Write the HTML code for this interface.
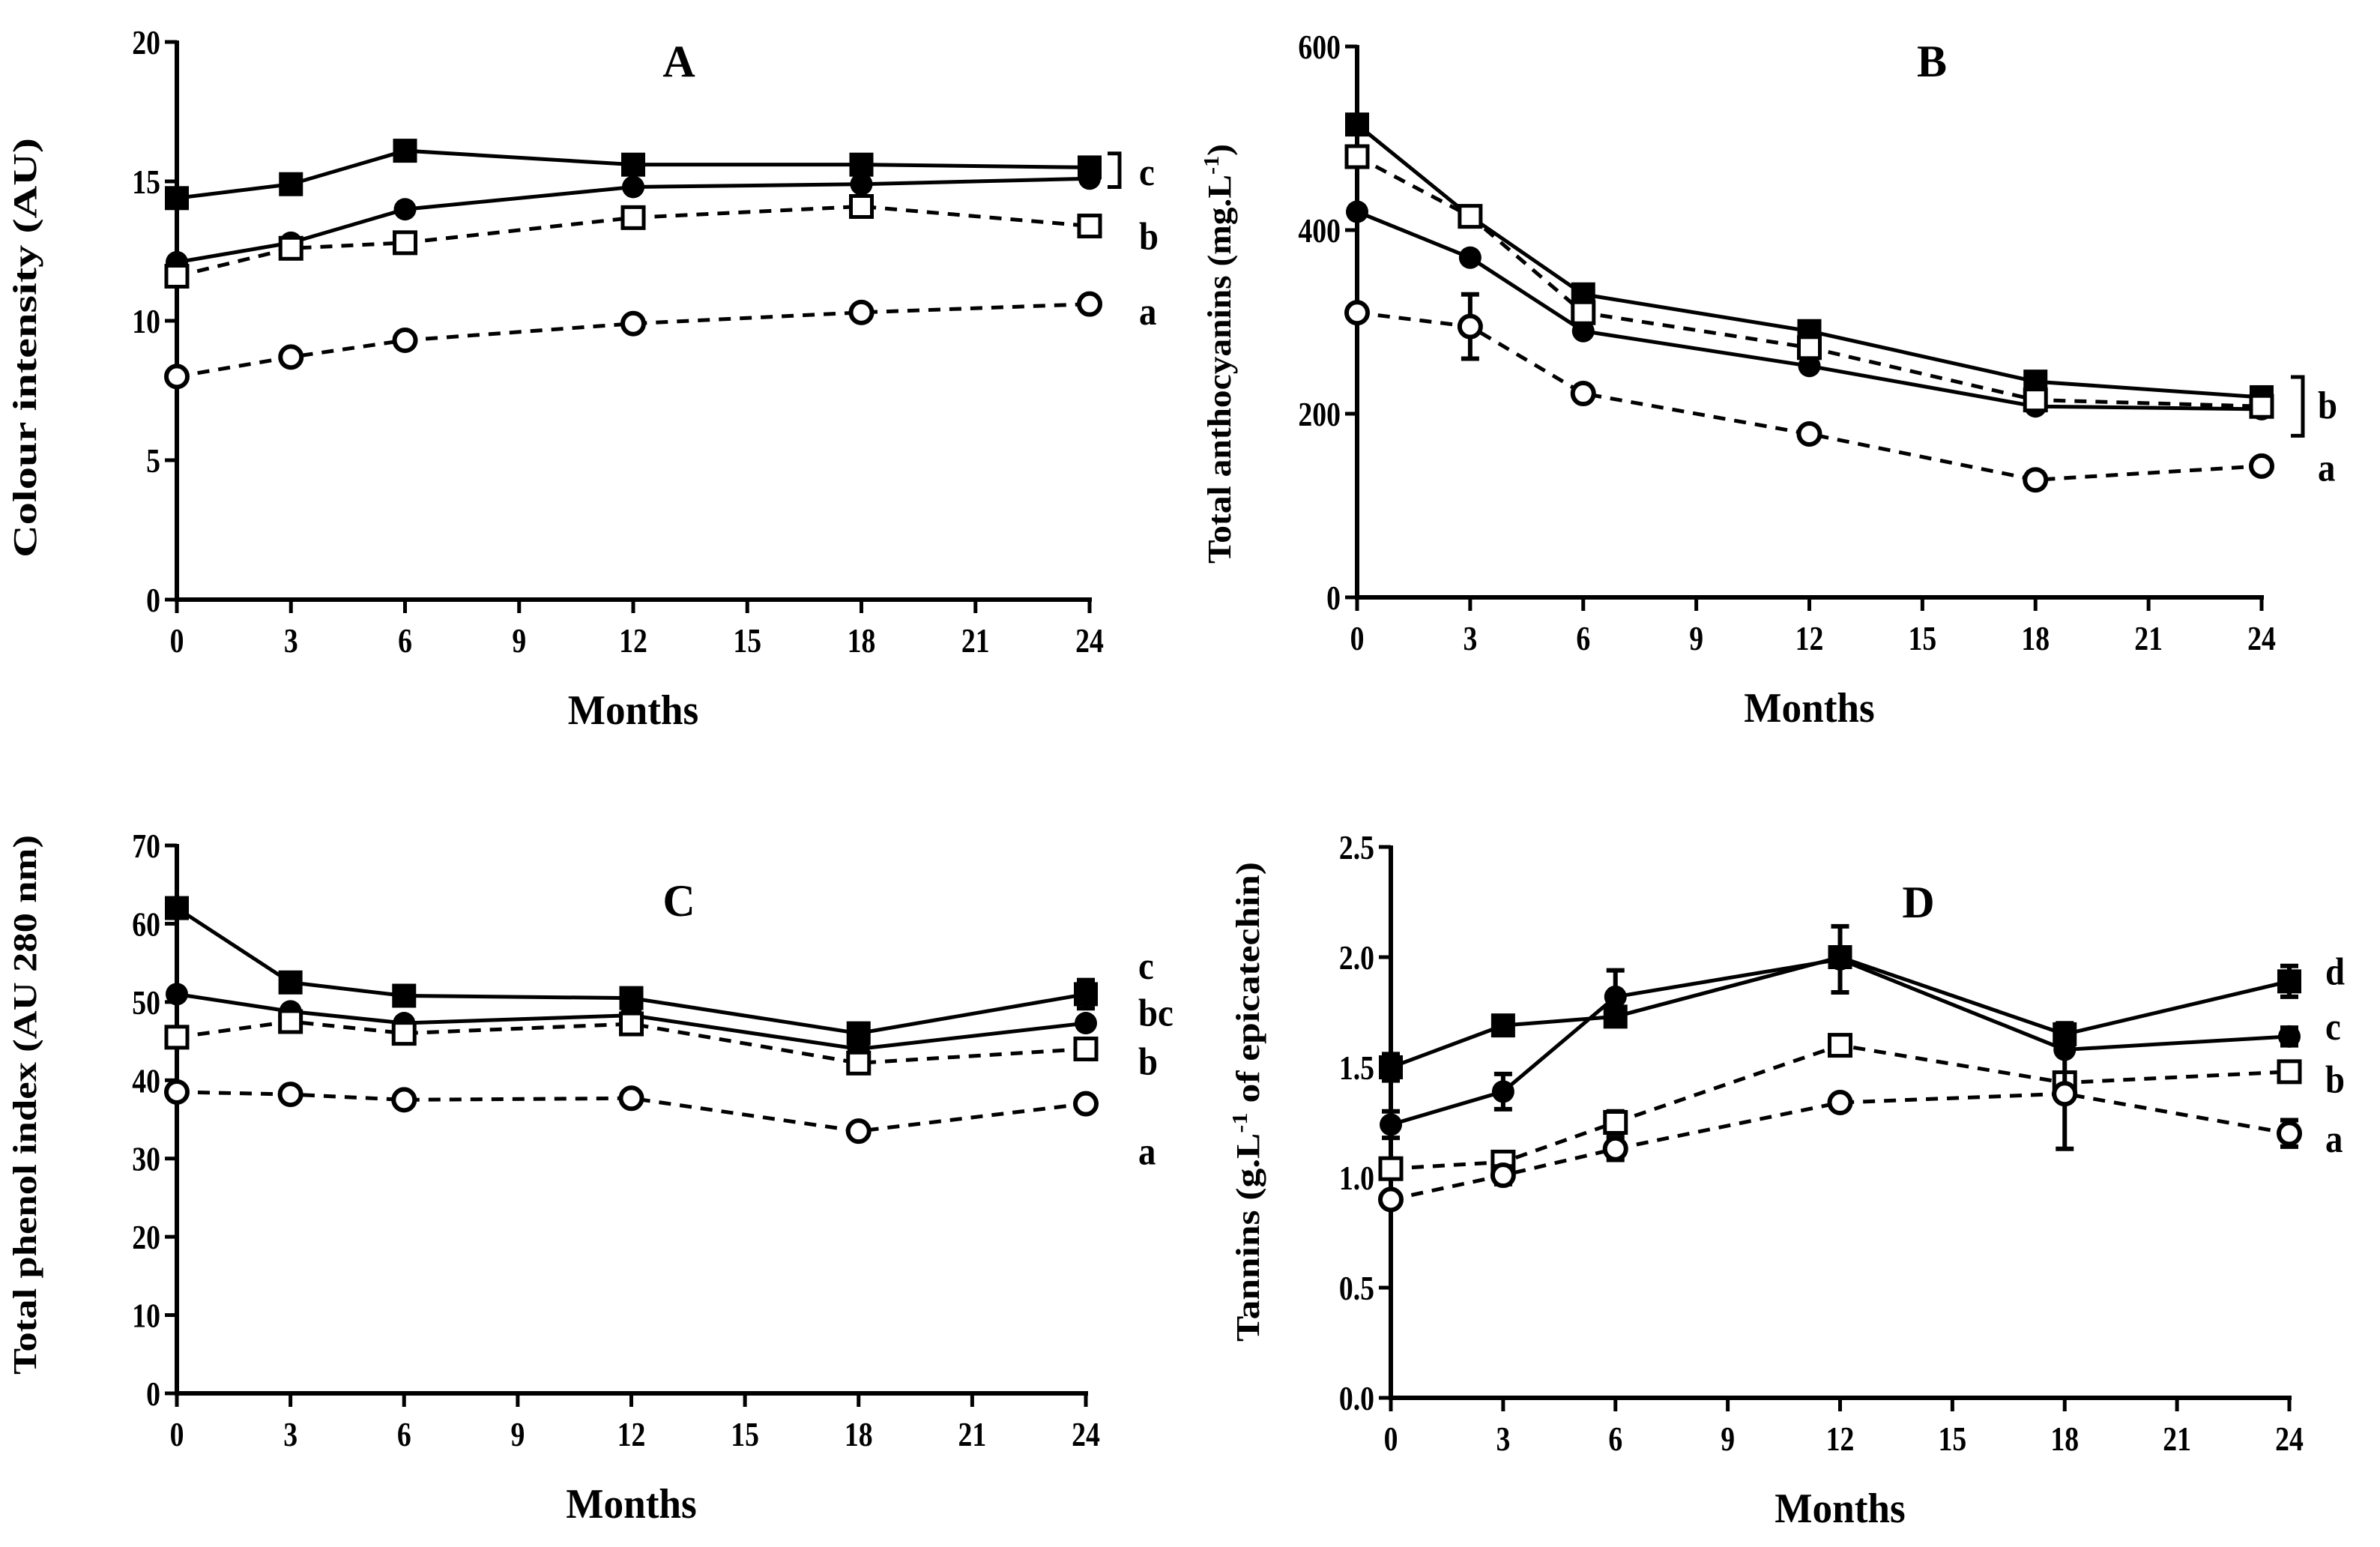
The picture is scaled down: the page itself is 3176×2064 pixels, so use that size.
<!DOCTYPE html>
<html><head><meta charset="utf-8"><style>
html,body{margin:0;padding:0;background:#fff;}
svg{display:block;}
text{font-family:"Liberation Serif",serif;font-weight:bold;fill:#000;}
</style></head><body>
<svg id="fig" width="3176" height="2064" viewBox="0 0 3176 2064"></svg>
<script>
const months=[0,3,6,12,18,24];
const xTicks=[0,3,6,9,12,15,18,21,24];
// Panel A
const aFilledSq=[14.4,14.9,16.1,15.6,15.6,15.5];
const aFilledCi=[12.1,12.8,14.0,14.8,14.9,15.1];
const aOpenSq=[11.6,12.6,12.8,13.7,14.1,13.4];
const aOpenCi=[8.0,8.7,9.3,9.9,10.3,10.6];
const aTicks=[0,5,10,15,20];
// Panel B
const bFilledSq=[515,415,330,290,235,218];
const bFilledCi=[420,370,290,252,208,205];
const bOpenSq=[480,415,310,272,215,208];
const bOpenCi=[310,295,222,178,128,143];
const bOpenCiErr=[0,35,0,0,8,0];
const bTicks=[0,200,400,600];
// Panel C
const cFilledSq=[62,52.5,50.8,50.5,46,51];
const cFilledSqErr=[0,0,0,0,0,1.8];
const cFilledCi=[51,48.8,47.3,48.3,44,47.3];
const cOpenSq=[45.5,47.5,46,47.2,42.2,44];
const cOpenCi=[38.5,38.2,37.5,37.7,33.5,37];
const cTicks=[0,10,20,30,40,50,60,70];
// Panel D
const dFilledSq=[1.50,1.69,1.73,2.00,1.65,1.89];
const dFilledSqErr=[0.06,0,0,0.04,0.05,0.07];
const dFilledCi=[1.24,1.39,1.82,1.99,1.58,1.64];
const dFilledCiErr=[0.06,0.08,0.12,0.15,0,0.04];
const dOpenSq=[1.04,1.07,1.25,1.60,1.43,1.48];
const dOpenSqErr=[0,0,0.05,0,0,0];
const dOpenCi=[0.90,1.01,1.13,1.34,1.38,1.20];
const dOpenCiErr=[0,0.04,0.05,0,0.25,0.06];
const dTicks=["0.0","0.5","1.0","1.5","2.0","2.5"];

const NS="http://www.w3.org/2000/svg";
const svg=document.getElementById('fig');
function mk(tag,attrs,parent,txt){const e=document.createElementNS(NS,tag);for(const k in attrs)e.setAttribute(k,attrs[k]);if(txt!==undefined)e.textContent=txt;(parent||svg).appendChild(e);return e;}
function st(x,y,size,anchor,txt,parent,sx){return mk('text',{x:0,y:0,'font-size':size,'text-anchor':anchor,transform:`translate(${x},${y}) scale(${sx||0.82},1)`},parent,txt);}

function panel(cfg){
  const g=mk('g',{});
  
  
  const X=v=>cfg.x0+(cfg.x1-cfg.x0)*v/24;
  const Y=v=>cfg.y0+(cfg.yTop-cfg.y0)*v/cfg.ymax;
  const ax=mk('path',{d:`M${cfg.x0} ${cfg.yTop-2}V${cfg.y0}H${cfg.x1+3}`,stroke:'#000','stroke-width':6,fill:'none'},g);
  
  
  cfg.yTicks.forEach(t=>{const v=parseFloat(t);
    mk('line',{x1:cfg.x0-16,x2:cfg.x0,y1:Y(v),y2:Y(v),stroke:'#000','stroke-width':5},g);
    const tl=st(cfg.x0-22,Y(v)+16,46,'end',t,g);
    
    
  });
  xTicks.forEach(t=>{
    mk('line',{x1:X(t),x2:X(t),y1:cfg.y0,y2:cfg.y0+18,stroke:'#000','stroke-width':5},g);
    const tl=st(X(t),cfg.y0+70,46,'middle',String(t),g);
    
    
  });
  const xt=st((cfg.x0+cfg.x1)/2,cfg.y0+166,56,'middle','Months',g,0.95);
  
  
  const yt=mk('text',{x:0,y:0,'font-size':44,'text-anchor':'middle',textLength:cfg.ytLen,lengthAdjust:'spacingAndGlyphs',transform:`translate(${cfg.ytX},${cfg.ytY}) rotate(-90)`},g);
  
  
  cfg.yTitle(yt);
  const pl=mk('text',{x:cfg.letterX,y:cfg.letterY,'font-size':60,'text-anchor':'middle'},g,cfg.id);
  
  
  cfg.series.forEach(s=>{
    const sg=mk('g',{},g);
    
    
    const d=s.vals.map((v,i)=>(i?'L':'M')+X(months[i])+' '+Y(v)).join('');
    mk('path',{d:d,stroke:'#000','stroke-width':5,fill:'none','stroke-dasharray':s.open?'16 12':'none'},sg);
    s.vals.forEach((v,i)=>{
      const e=s.err?s.err[i]:0;
      if(e>0){const cx=X(months[i]);
        mk('path',{d:`M${cx} ${Y(v+e)}V${Y(v-e)}M${cx-12} ${Y(v+e)}H${cx+12}M${cx-12} ${Y(v-e)}H${cx+12}`,stroke:'#000','stroke-width':6,fill:'none'},sg);}
      let m;
      const cx=X(months[i]),cy=Y(v);
      if(s.shape==='sq'){
        m=s.open?mk('rect',{x:cx-14,y:cy-14,width:28,height:28,fill:'#fff',stroke:'#000','stroke-width':5},sg)
                :mk('rect',{x:cx-16,y:cy-16,width:32,height:32,fill:'#000'},sg);
      }else{
        m=s.open?mk('circle',{cx:cx,cy:cy,r:14,fill:'#fff',stroke:'#000','stroke-width':6},sg)
                :mk('circle',{cx:cx,cy:cy,r:15,fill:'#000'},sg);
      }
      
      
    });
  });
  cfg.letters.forEach(l=>{
    const t=st(cfg.x1+(l.dx||48),Y(l.v)+16,52,'start',l.t,g,0.9);
    
    
  });
  if(cfg.bracket){const b=cfg.bracket,bx=cfg.x1+b.dx;
    const br=mk('path',{d:`M${bx-16} ${Y(b.hi)}H${bx}V${Y(b.lo)}H${bx-16}`,stroke:'#000','stroke-width':5,fill:'none'},g);
    
    
  }
}
function simpleTitle(s){return el=>{el.textContent=s;};}
function supTitle(a,b){return el=>{mk('tspan',{},el,a);mk('tspan',{dy:-16,'font-size':28},el,'-1');mk('tspan',{dy:16},el,b);};}

panel({id:'A',x0:236,x1:1454,y0:800,yTop:56,ymax:20,yTicks:aTicks.map(String),
  ytX:48,ytY:464,ytLen:560,yTitle:simpleTitle('Colour intensity (AU)'),letterX:906,letterY:102,
  series:[{name:'filled-square',shape:'sq',vals:aFilledSq},{name:'filled-circle',shape:'ci',vals:aFilledCi},
          {name:'open-square',shape:'sq',open:true,vals:aOpenSq},{name:'open-circle',shape:'ci',open:true,vals:aOpenCi}],
  letters:[{t:'c',v:15.3,dx:66},{t:'b',v:13.0,dx:66},{t:'a',v:10.3,dx:66}],bracket:{hi:16.0,lo:14.8,dx:40}});
panel({id:'B',x0:1811,x1:3018,y0:797,yTop:62,ymax:600,yTicks:bTicks.map(String),
  ytX:1642,ytY:472,ytLen:560,yTitle:supTitle('Total anthocyanins (mg.L',')'),letterX:2578,letterY:102,
  series:[{name:'filled-square',shape:'sq',vals:bFilledSq},{name:'filled-circle',shape:'ci',vals:bFilledCi},
          {name:'open-square',shape:'sq',open:true,vals:bOpenSq},{name:'open-circle',shape:'ci',open:true,vals:bOpenCi,err:bOpenCiErr}],
  letters:[{t:'b',v:208,dx:75},{t:'a',v:140,dx:75}],bracket:{hi:240,lo:176,dx:55}});
panel({id:'C',x0:236,x1:1449,y0:1859,yTop:1128,ymax:70,yTicks:cTicks.map(String),
  ytX:48,ytY:1474,ytLen:720,yTitle:simpleTitle('Total phenol index (AU 280 nm)'),letterX:906,letterY:1222,
  series:[{name:'filled-square',shape:'sq',vals:cFilledSq,err:cFilledSqErr},{name:'filled-circle',shape:'ci',vals:cFilledCi},
          {name:'open-square',shape:'sq',open:true,vals:cOpenSq},{name:'open-circle',shape:'ci',open:true,vals:cOpenCi}],
  letters:[{t:'c',v:54.5,dx:70},{t:'bc',v:48.5,dx:70},{t:'b',v:42.3,dx:70},{t:'a',v:30.8,dx:70}]});
panel({id:'D',x0:1856,x1:3055,y0:1865,yTop:1130,ymax:2.5,yTicks:dTicks,
  ytX:1680,ytY:1470,ytLen:640,yTitle:supTitle('Tannins (g.L',' of epicatechin)'),letterX:2560,letterY:1224,
  series:[{name:'filled-square',shape:'sq',vals:dFilledSq,err:dFilledSqErr},{name:'filled-circle',shape:'ci',vals:dFilledCi,err:dFilledCiErr},
          {name:'open-square',shape:'sq',open:true,vals:dOpenSq,err:dOpenSqErr},{name:'open-circle',shape:'ci',open:true,vals:dOpenCi,err:dOpenCiErr}],
  letters:[{t:'d',v:1.93,dx:48},{t:'c',v:1.68,dx:48},{t:'b',v:1.44,dx:48},{t:'a',v:1.17,dx:48}]});
</script>
</body></html>
